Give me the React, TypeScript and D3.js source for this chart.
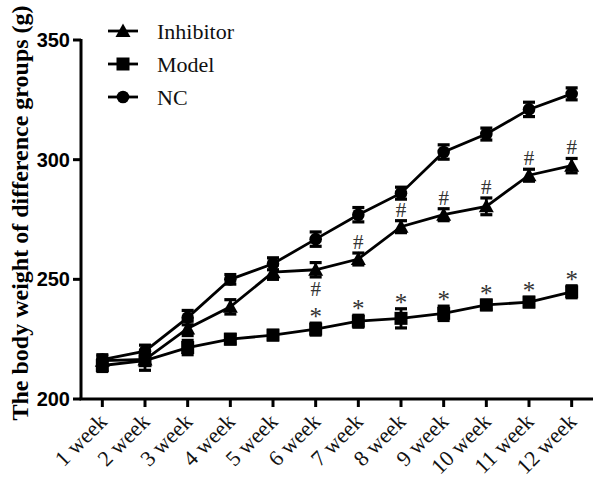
import React from "react";
import * as d3 from "d3";

const weeks = ["1 week","2 week","3 week","4 week","5 week","6 week","7 week","8 week","9 week","10 week","11 week","12 week"];
const inhibitor = [216, 216.5, 229.5, 238.5, 253, 254, 258.5, 272, 277, 280.5, 293.5, 297.5];
const inhibitorErr = [2, 2, 3, 3, 3, 3, 2.5, 2.5, 2.5, 3.5, 2.5, 3];
const model = [214, 216, 221.5, 225, 226.7, 229.2, 232.5, 233.7, 235.8, 239.3, 240.5, 244.8];
const modelErr = [2.5, 4, 3, 2, 2, 2.5, 2.5, 4, 3, 2, 2, 2.5];
const nc = [216.5, 220, 234, 250, 256.5, 266.8, 277, 286, 303.2, 310.7, 321, 327.5];
const ncErr = [2, 2.5, 3, 2, 2.5, 3, 3, 2.5, 3, 2.5, 3, 2.5];
const yTicks = [200, 250, 300, 350];
const hashWeeks = ["6 week","7 week","8 week","9 week","10 week","11 week","12 week"];
const hashBelow = ["6 week"];
const starWeeks = ["6 week","7 week","8 week","9 week","10 week","11 week","12 week"];

type Shape = "triangle" | "square" | "circle";
const seriesList: { name: string; values: number[]; err: number[]; shape: Shape }[] = [
  { name: "Inhibitor", values: inhibitor, err: inhibitorErr, shape: "triangle" },
  { name: "Model", values: model, err: modelErr, shape: "square" },
  { name: "NC", values: nc, err: ncErr, shape: "circle" },
];

function Marker({ shape, x, y }: { shape: Shape; x: number; y: number }) {
  if (shape === "circle") return <circle cx={x} cy={y} r={6.3} fill="#000" />;
  if (shape === "square") return <rect x={x - 6.5} y={y - 6.5} width={13} height={13} fill="#000" />;
  const s = 7.5;
  return <path d={`M${x},${y - s}L${x + s},${y + s * 0.8}L${x - s},${y + s * 0.8}Z`} fill="#000" />;
}

export default function App() {
  const W = 600, H = 485;
  const x = d3.scalePoint<string>().domain(weeks).range([81, 593]).padding(0.5);
  const y = d3.scaleLinear().domain([200, 350]).range([399, 40]);
  const line = d3.line<number>().x((_, i) => x(weeks[i])!).y((d) => y(d));
  const serif = "'Liberation Serif', 'Times New Roman', serif";
  const sans = "'Liberation Sans', Arial, sans-serif";
  const idx = (w: string) => weeks.indexOf(w);

  return (
    <svg width={W} height={H} style={{ display: "block", position: "absolute", left: 0, top: 0, background: "#fff" }}>
      <rect width={W} height={H} fill="#fff" />
      {/* axes */}
      <line x1={81} x2={81} y1={y(350) - 1} y2={399} stroke="#000" strokeWidth={3} />
      <line x1={79.5} x2={593} y1={399} y2={399} stroke="#000" strokeWidth={3} />
      {yTicks.map((t) => (
        <g key={t}>
          <line x1={73} x2={81} y1={y(t)} y2={y(t)} stroke="#000" strokeWidth={3} />
          <text x={70} y={y(t)} textAnchor="end" dominantBaseline="central" fontFamily={sans} fontWeight="bold" fontSize={20} fill="#000">{t}</text>
        </g>
      ))}
      {weeks.map((w) => (
        <g key={w}>
          <line x1={x(w)} x2={x(w)} y1={399} y2={407} stroke="#000" strokeWidth={3} />
          <text transform={`translate(${x(w)! + 6},${423}) rotate(-45)`} textAnchor="end" fontFamily={serif} fontSize={22} fill="#111">{w}</text>
        </g>
      ))}
      <text transform={`translate(28,${213}) rotate(-90)`} textAnchor="middle" fontFamily={serif} fontWeight="bold" fontSize={24} fill="#000">
        The body weight of difference groups (g)
      </text>
      {/* series */}
      {seriesList.map((s) => (
        <g key={s.name}>
          <path d={line(s.values) ?? ""} fill="none" stroke="#000" strokeWidth={2.8} />
          {s.values.map((v, i) => {
            const cx = x(weeks[i])!;
            const top = y(v + s.err[i]);
            const bot = y(v - s.err[i]);
            return (
              <g key={i}>
                <line x1={cx} x2={cx} y1={top} y2={bot} stroke="#000" strokeWidth={2.8} />
                <line x1={cx - 6} x2={cx + 6} y1={top} y2={top} stroke="#000" strokeWidth={3.2} />
                <line x1={cx - 6} x2={cx + 6} y1={bot} y2={bot} stroke="#000" strokeWidth={3.2} />
                <Marker shape={s.shape} x={cx} y={y(v)} />
              </g>
            );
          })}
        </g>
      ))}
      {/* significance marks */}
      {hashWeeks.map((w) => {
        const i = idx(w);
        const below = hashBelow.includes(w);
        const cy = below ? y(inhibitor[i] - inhibitorErr[i]) + 12 : y(inhibitor[i] + inhibitorErr[i]) - 11;
        return (
          <text key={"h" + w} x={x(w)} y={cy + 7} textAnchor="middle" fontFamily={serif} fontSize={21} fill="#333">#</text>
        );
      })}
      {starWeeks.map((w) => {
        const i = idx(w);
        const cy = y(model[i] + modelErr[i]) - 10;
        return (
          <text key={"s" + w} x={x(w)} y={cy + 12} textAnchor="middle" fontFamily={serif} fontSize={25} fill="#333">*</text>
        );
      })}
      {/* legend */}
      {seriesList.map((s, i) => {
        const ly = 31 + i * 33;
        return (
          <g key={"l" + s.name}>
            <line x1={108} x2={138} y1={ly} y2={ly} stroke="#000" strokeWidth={2.8} />
            <Marker shape={s.shape} x={123} y={ly} />
            <text x={157} y={ly} dominantBaseline="central" fontFamily={serif} fontSize={22} fill="#111">{s.name}</text>
          </g>
        );
      })}
    </svg>
  );
}
